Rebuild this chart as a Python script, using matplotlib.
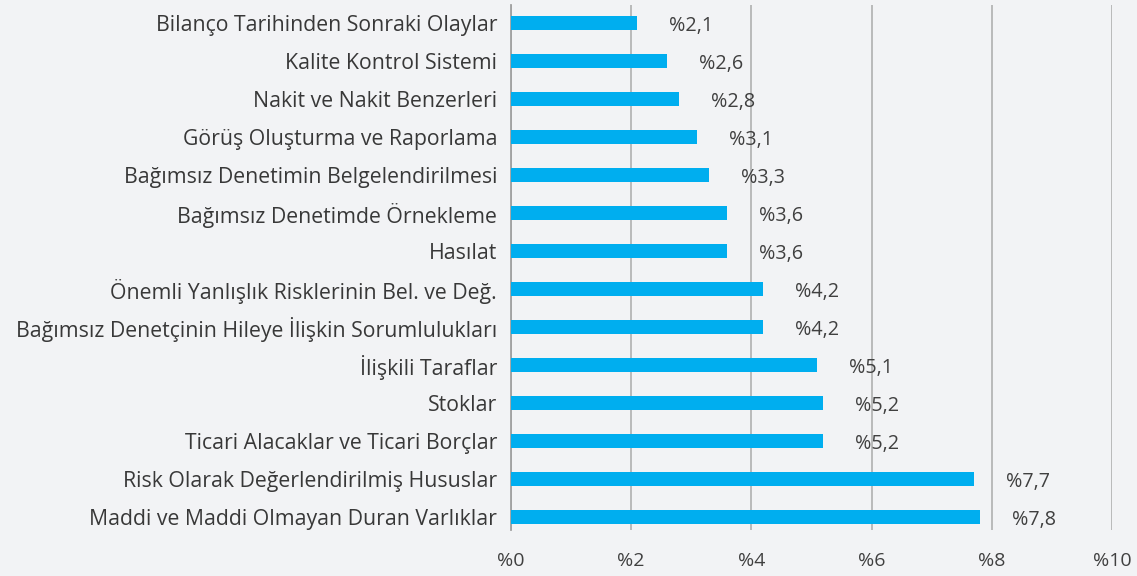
import numpy as np
import matplotlib.pyplot as plt

categories = ['Bilanço Tarihinden Sonraki Olaylar', 'Kalite Kontrol Sistemi',
              'Nakit ve Nakit Benzerleri', 'Görüş Oluşturma ve Raporlama',
              'Bağımsız Denetimin Belgelendirilmesi', 'Bağımsız Denetimde Örnekleme',
              'Hasılat', 'Önemli Yanlışlık Risklerinin Bel. ve Değ.',
              'Bağımsız Denetçinin Hileye İlişkin Sorumlulukları', 'İlişkili Taraflar',
              'Stoklar', 'Ticari Alacaklar ve Ticari Borçlar',
              'Risk Olarak Değerlendirilmiş Hususlar',
              'Maddi ve Maddi Olmayan Duran Varlıklar']
values = [2.1, 2.6, 2.8, 3.1, 3.3, 3.6, 3.6, 4.2, 4.2, 5.1, 5.2, 5.2, 7.7, 7.8]
xticks = [0, 2, 4, 6, 8, 10]

fam = ['Open Sans', 'DejaVu Sans']
fs = 15.3
bg = '#f2f3f5'
fig = plt.figure(figsize=(11.37, 5.76), dpi=100, facecolor=bg)
ax = fig.add_axes([0.4494, 0.080, 0.5286, 0.911], facecolor=bg)
plt.rcParams['font.family'] = fam

y = np.arange(len(categories))
ax.barh(y, values, height=0.37, color='#00aeef', zorder=3)
for yi, v in zip(y, values):
    ax.annotate('%' + ('%.1f' % v).replace('.', ','), (v, yi), xytext=(23, -2),
                textcoords='offset points', ha='left', va='center',
                fontsize=14.2, color='#404040', family=fam)

ax.set_xlim(0, 10)
ax.set_ylim(13.34, -0.47)
ax.set_xticks(xticks)
ax.set_xticklabels(['%' + str(t) for t in xticks], fontsize=14, color='#404040',
                   family=fam)
ax.set_yticks(y)
ax.set_yticklabels(categories, fontsize=fs, color='#383838', family=fam)
ax.tick_params(axis='both', length=0)
ax.tick_params(axis='x', pad=16)
ax.tick_params(axis='y', pad=10)
ax.grid(axis='x', color='#b5b5b5', linewidth=1.3, zorder=0)
for s in ['top', 'right', 'bottom']:
    ax.spines[s].set_visible(False)
ax.spines['left'].set_color('#a0a0a0')
ax.spines['left'].set_linewidth(1.3)

fig.savefig('out.png', dpi=100, facecolor=bg)
